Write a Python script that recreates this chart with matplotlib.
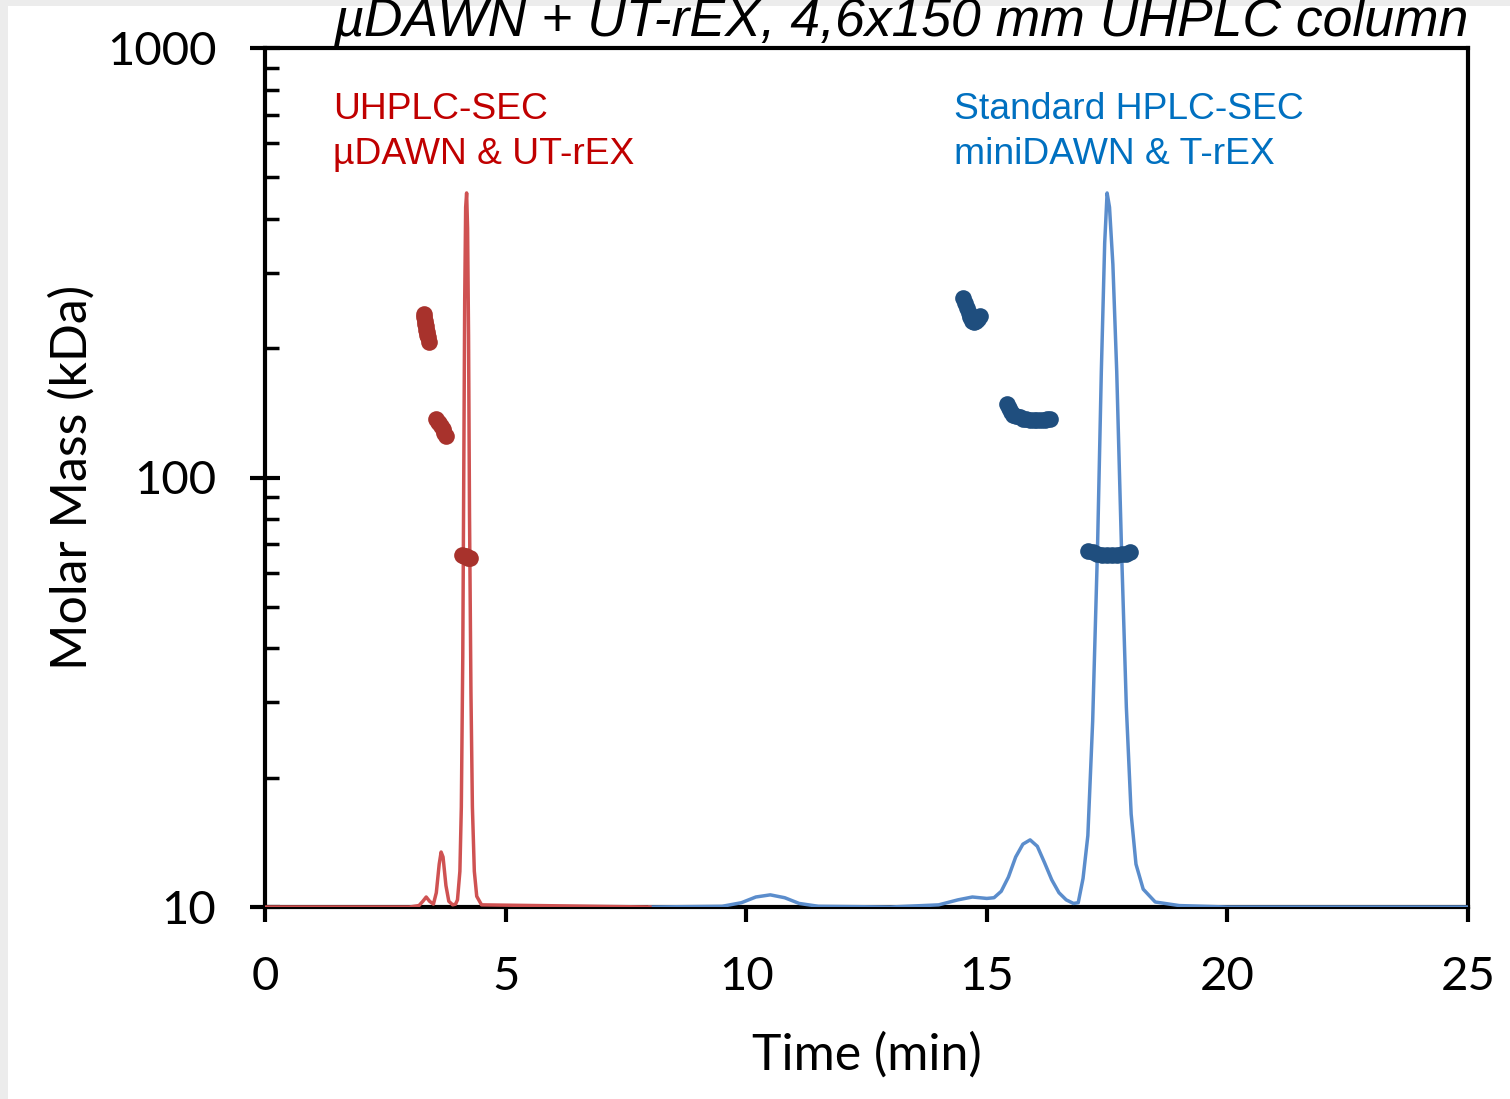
#!/usr/bin/env python3
"""Molar mass vs. elution time: UHPLC-SEC vs standard HPLC-SEC."""

import matplotlib
matplotlib.use('Agg')
import matplotlib.pyplot as plt
from matplotlib.patches import Rectangle

# --- chromatogram traces (normalized detector signal, 1.0 = main peak) ---
uhplc_time = [0, 3.0, 3.2, 3.28, 3.35, 3.42, 3.5, 3.56, 3.62, 3.66, 3.70, 3.76,
              3.82, 3.90, 3.96, 4.00, 4.05, 4.08, 4.11, 4.13, 4.15, 4.17, 4.19,
              4.21, 4.23, 4.25, 4.28, 4.31, 4.35, 4.40, 4.50, 8.0]
uhplc_signal = [0, 0, 0.002, 0.008, 0.014, 0.008, 0.004, 0.02, 0.06, 0.077, 0.07,
                0.03, 0.008, 0.003, 0.004, 0.01, 0.05, 0.14, 0.35, 0.6, 0.85, 0.98,
                1.0, 0.95, 0.8, 0.55, 0.3, 0.14, 0.05, 0.015, 0.003, 0]

hplc_time = [8.0, 9.5, 9.9, 10.2, 10.5, 10.8, 11.1, 11.5, 13.0, 14.0, 14.4, 14.7,
             15.0, 15.15, 15.3, 15.45, 15.6, 15.75, 15.9, 16.05, 16.2, 16.35, 16.5,
             16.65, 16.8, 16.9, 17.0, 17.1, 17.2, 17.3, 17.38, 17.45, 17.5, 17.55,
             17.62, 17.7, 17.8, 17.9, 18.0, 18.1, 18.25, 18.5, 19.0, 20.0, 25.0]
hplc_signal = [0, 0.001, 0.006, 0.014, 0.017, 0.013, 0.005, 0.001, 0, 0.003, 0.01,
               0.014, 0.012, 0.013, 0.022, 0.042, 0.07, 0.088, 0.094, 0.085, 0.062,
               0.038, 0.02, 0.01, 0.005, 0.006, 0.04, 0.1, 0.26, 0.5, 0.75, 0.93,
               1.0, 0.98, 0.9, 0.75, 0.5, 0.28, 0.13, 0.06, 0.025, 0.007, 0.002, 0, 0]

# --- molar mass points (kDa) ---
uhplc_mm_time = [3.30, 3.31, 3.32, 3.33, 3.34, 3.35, 3.36, 3.37, 3.38, 3.40,
                 3.55, 3.59, 3.62, 3.66, 3.70, 3.73, 3.76,
                 4.10, 4.14, 4.18, 4.22, 4.26]
uhplc_mm = [240, 236, 232, 228, 225, 221, 218, 215, 212, 207,
            137, 135, 134, 132, 130, 127, 125,
            66, 65.5, 65.5, 65, 65]

hplc_mm_time = [14.50, 14.54, 14.58, 14.62, 14.66, 14.70, 14.74, 14.78, 14.82, 14.86,
                15.42, 15.46, 15.50, 15.55, 15.60, 15.68, 15.75, 15.82, 15.90, 15.98,
                16.05, 16.12, 16.20, 16.26, 16.32,
                17.10, 17.20, 17.30, 17.40, 17.50, 17.60, 17.70, 17.80, 17.90, 17.98]
hplc_mm = [262, 255, 248, 242, 236, 232, 230, 231, 234, 238,
           148, 145, 142, 140, 139, 138, 137, 136.5, 136, 136,
           136, 136, 136, 136.5, 137,
           67.5, 67, 66.5, 66, 66, 66, 66, 66.2, 66.5, 67]

x_ticks = [0, 5, 10, 15, 20, 25]
y_ticks = [10, 100, 1000]

RED_LINE = '#cf5252'
BLUE_LINE = '#5b8dcc'
RED_DOT = '#a8322c'
BLUE_DOT = '#1f4e7e'

fig = plt.figure(figsize=(15.1, 10.99), dpi=100, facecolor='#ececec')
fig.patches.append(Rectangle((8 / 1510, 0), 1, 1 - 6 / 1099, transform=fig.transFigure,
                             facecolor='white', edgecolor='none', zorder=-1))

ax = fig.add_axes([265 / 1510, 1 - 907 / 1099, (1468 - 265) / 1510, (907 - 48) / 1099])

# hidden linear axis that only provides the signal scale
sig = ax.twinx()
sig.set_ylim(0, 1.203)
sig.set_xlim(0, 25)
sig.set_yticks([])
sig.set_zorder(ax.get_zorder() - 1)
for s in sig.spines.values():
    s.set_visible(False)

ax.set_yscale('log')
ax.set_ylim(10, 1000)
ax.set_xlim(0, 25)
ax.set_autoscale_on(False)
ax.patch.set_visible(False)

# traces drawn on the main axes (above the spines) in signal coordinates
ax.plot(hplc_time, hplc_signal, color=BLUE_LINE, lw=2.5, zorder=3,
        transform=sig.transData)
ax.plot(uhplc_time, uhplc_signal, color=RED_LINE, lw=2.5, zorder=3.1,
        transform=sig.transData)

ax.plot(uhplc_mm_time, uhplc_mm, 'o', color=RED_DOT, ms=12, mec='none', zorder=4)
ax.plot(hplc_mm_time, hplc_mm, 'o', color=BLUE_DOT, ms=12, mec='none', zorder=4)

ax.set_xticks(x_ticks)
ax.set_yticks(y_ticks)
ax.set_yticklabels([str(v) for v in y_ticks])
ax.minorticks_on()
ax.xaxis.set_minor_locator(plt.NullLocator())

for s in ax.spines.values():
    s.set_linewidth(3)

tick_font = 'Lato'
ax.tick_params(axis='x', which='major', direction='out', length=11, width=3,
               labelsize=34, pad=24)
ax.tick_params(axis='y', which='major', direction='inout', length=22, width=3,
               labelsize=34, pad=24)
ax.tick_params(axis='y', which='minor', direction='in', length=10, width=2.5)
for lbl in ax.get_xticklabels() + ax.get_yticklabels():
    lbl.set_fontfamily(tick_font)

ax.set_xlabel('Time (min)', fontsize=36, fontfamily=tick_font)
ax.xaxis.set_label_coords(0.5, -0.145)
ax.set_ylabel('Molar Mass (kDa)', fontsize=36, fontfamily=tick_font)
ax.yaxis.set_label_coords(-0.141, 0.5)

fig.text(333 / 1510, 1 - 36 / 1099, 'µDAWN + UT-rEX, 4,6x150 mm UHPLC column',
         fontsize=38.5, fontstyle='italic', fontfamily='Liberation Sans',
         va='baseline', ha='left')

fig.text(333 / 1510, 1 - 119 / 1099, 'UHPLC-SEC', color='#c00000', fontsize=26.8,
         fontfamily='Liberation Sans', va='baseline')
fig.text(333 / 1510, 1 - 164 / 1099, 'µDAWN & UT-rEX', color='#c00000', fontsize=26.8,
         fontfamily='Liberation Sans', va='baseline')
fig.text(954 / 1510, 1 - 119 / 1099, 'Standard HPLC-SEC', color='#0070c0', fontsize=26.8,
         fontfamily='Liberation Sans', va='baseline')
fig.text(954 / 1510, 1 - 164 / 1099, 'miniDAWN & T-rEX', color='#0070c0', fontsize=26.8,
         fontfamily='Liberation Sans', va='baseline')

fig.savefig('out.png', dpi=100, facecolor=fig.get_facecolor())
